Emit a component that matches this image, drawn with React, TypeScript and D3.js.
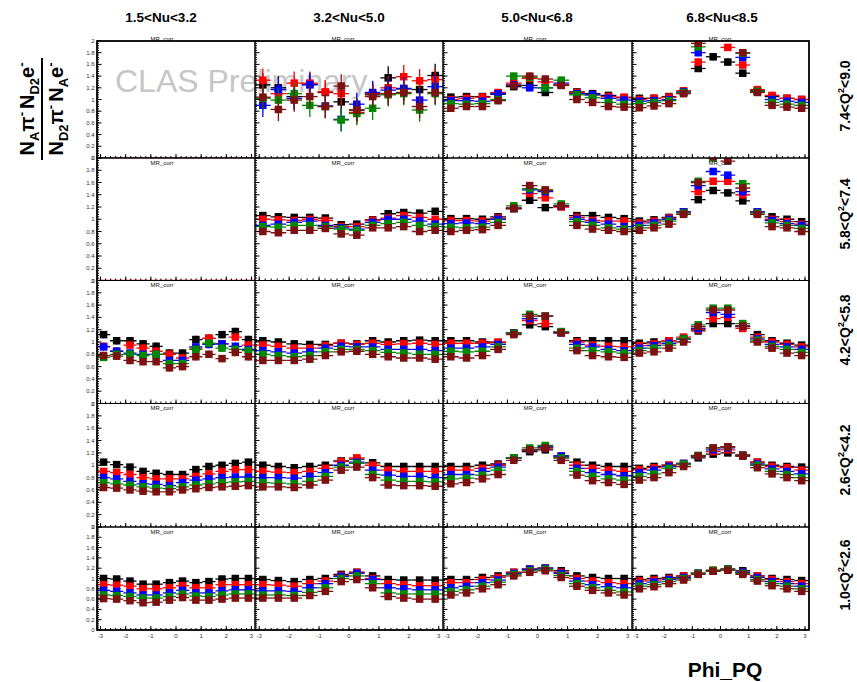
import * as d3 from 'd3';

// phi_PQ bin centres (rad), 12 bins over [-pi, pi]
const phiCenters = [-2.88, -2.36, -1.83, -1.31, -0.79, -0.26, 0.26, 0.79, 1.31, 1.83, 2.36, 2.88];
const binHalfWidth = Math.PI / 12;

const nuLabels = ['1.5<Nu<3.2', '3.2<Nu<5.0', '5.0<Nu<6.8', '6.8<Nu<8.5'];
const q2Lo = ['7.4', '5.8', '4.2', '2.6', '1.0'];
const q2Hi = ['9.0', '7.4', '5.8', '4.2', '2.6'];
const xTickLabels = [-3, -2, -1, 0, 1, 2, 3];

// series: black, red, blue, green, maroon
const seriesColors = ['#000000', '#ff0000', '#0000ff', '#008800', '#7d1010'];

// ---- 7.4<Q2<9.0 ----
const q74_nu15 = [[], [0, 0, 0, 0, 0, 0, 0, 0, 0, 0, 0, 0], [], [], []];
const q74_nu32 = [
  [1.25, 1.2, 1.05, 1.26, 1.12, 0.96, 0.82, 1.08, 1.37, 1.18, 1.17, 1.41],
  [1.33, 1.1, 1.28, 1.28, 1.13, 1.1, 0.78, 1.1, 1.2, 1.39, 1.32, 1.34],
  [0.9, 1.17, 1.02, 1.25, 0.89, 0.66, 0.92, 1.12, 1.16, 1.19, 0.99, 1.22],
  [1.02, 0.99, 1.1, 0.9, 0.88, 0.65, 0.76, 0.85, 1.08, 1.1, 0.82, 1.1],
  [1.04, 0.83, 0.99, 1.05, 0.88, 1.23, 0.82, 1.05, 1.1, 1.12, 0.88, 1.12],
];
const q74_nu50 = [
  [1.04, 1.05, 1.05, 1.09, 1.22, 1.24, 1.12, 1.25, 1.13, 1.1, 1.07, 1.03],
  [1.0, 1.02, 1.04, 1.12, 1.28, 1.36, 1.3, 1.25, 1.12, 1.08, 1.05, 1.04],
  [0.98, 0.98, 0.97, 1.1, 1.25, 1.2, 1.2, 1.28, 1.1, 1.08, 1.02, 0.99],
  [0.93, 0.92, 0.93, 1.0, 1.4, 1.38, 1.2, 1.33, 1.08, 1.03, 0.95, 0.92],
  [0.85, 0.88, 0.88, 0.98, 1.24, 1.4, 1.35, 1.24, 1.0, 0.95, 0.88, 0.87],
];
const q74_nu68 = [
  [1.02, 1.02, 1.05, 1.12, 1.53, 1.73, 1.64, 1.45, 1.15, 1.05, 1.02, 1.0],
  [1.0, 1.02, 1.04, 1.15, 1.64, 2.1, 1.89, 1.59, 1.17, 1.07, 1.02, 1.0],
  [0.97, 0.98, 1.0, 1.13, 1.8, 2.15, 2.1, 1.72, 1.13, 1.0, 0.97, 0.95],
  [0.93, 0.95, 0.98, 1.12, 1.9, 2.2, 2.2, 1.79, 1.14, 0.95, 0.92, 0.9],
  [0.86, 0.89, 0.93, 1.1, 1.96, 2.2, 2.2, 1.8, 1.12, 0.9, 0.87, 0.85],
];

// ---- 5.8<Q2<7.4 ----
const q58_nu15 = [[], [0, 0, 0, 0, 0, 0, 0, 0, 0, 0, 0, 0], [], [], []];
const q58_nu32 = [
  [1.06, 1.04, 1.03, 1.03, 1.02, 0.91, 0.92, 0.99, 1.09, 1.11, 1.1, 1.13],
  [1.0, 0.99, 0.98, 1.0, 0.98, 0.88, 0.88, 0.98, 1.02, 1.06, 1.03, 1.0],
  [0.9, 0.92, 0.95, 0.97, 0.9, 0.86, 0.84, 0.95, 1.0, 1.0, 0.97, 0.92],
  [0.88, 0.87, 0.9, 0.9, 0.88, 0.84, 0.82, 0.9, 0.93, 0.95, 0.9, 0.88],
  [0.8, 0.78, 0.82, 0.82, 0.85, 0.76, 0.74, 0.86, 0.86, 0.88, 0.8, 0.82],
];
const q58_nu50 = [
  [1.01, 1.01, 1.0, 1.04, 1.17, 1.31, 1.19, 1.21, 1.06, 1.06, 1.03, 1.01],
  [0.98, 0.98, 0.97, 1.02, 1.18, 1.42, 1.35, 1.2, 1.03, 0.98, 0.97, 0.97],
  [0.93, 0.94, 0.93, 1.0, 1.18, 1.48, 1.45, 1.22, 1.0, 0.95, 0.92, 0.88],
  [0.87, 0.86, 0.87, 0.95, 1.22, 1.5, 1.47, 1.25, 0.96, 0.9, 0.86, 0.84],
  [0.8, 0.82, 0.83, 0.9, 1.18, 1.55, 1.48, 1.22, 0.9, 0.84, 0.82, 0.8],
];
const q58_nu68 = [
  [0.97, 0.99, 1.03, 1.12, 1.32, 1.47, 1.43, 1.3, 1.12, 1.04, 1.0, 0.96],
  [0.94, 0.97, 1.02, 1.12, 1.45, 1.62, 1.62, 1.4, 1.12, 1.0, 0.96, 0.92],
  [0.9, 0.94, 1.0, 1.12, 1.55, 1.78, 1.72, 1.45, 1.12, 0.98, 0.93, 0.9],
  [0.86, 0.9, 0.97, 1.1, 1.62, 2.0, 2.05, 1.58, 1.1, 0.94, 0.9, 0.85],
  [0.82, 0.86, 0.92, 1.08, 1.6, 2.02, 1.95, 1.51, 1.08, 0.88, 0.86, 0.8],
];

// ---- 4.2<Q2<5.8 ----
const q42_nu15 = [
  [1.12, 1.02, 1.02, 0.97, 0.93, 0.82, 0.82, 1.04, 1.06, 1.12, 1.17, 1.04],
  [0.93, 0.85, 0.95, 0.9, 0.85, 0.8, 0.74, 0.9, 1.06, 0.97, 1.08, 0.95],
  [0.92, 0.85, 0.82, 0.8, 0.8, 0.7, 0.7, 0.92, 0.96, 0.97, 0.93, 0.88],
  [0.75, 0.8, 0.8, 0.78, 0.8, 0.65, 0.65, 0.88, 0.98, 0.9, 0.88, 0.86],
  [0.78, 0.77, 0.7, 0.68, 0.68, 0.58, 0.6, 0.76, 0.8, 0.73, 0.83, 0.76],
];
const q42_nu32 = [
  [1.02, 1.0, 0.97, 0.96, 0.96, 0.98, 0.97, 1.02, 1.0, 1.02, 1.03, 1.02],
  [0.95, 0.93, 0.9, 0.9, 0.94, 0.98, 0.96, 0.98, 0.96, 0.97, 0.98, 0.96],
  [0.86, 0.84, 0.82, 0.84, 0.9, 0.93, 0.92, 0.92, 0.88, 0.88, 0.88, 0.86],
  [0.8, 0.78, 0.76, 0.78, 0.84, 0.88, 0.88, 0.86, 0.83, 0.82, 0.8, 0.8],
  [0.7, 0.7, 0.7, 0.72, 0.78, 0.84, 0.85, 0.8, 0.76, 0.74, 0.74, 0.72],
];
const q42_nu50 = [
  [1.02, 1.02, 1.0, 0.99, 1.15, 1.28, 1.25, 1.16, 1.02, 1.02, 1.02, 1.02],
  [0.98, 0.98, 0.98, 1.0, 1.14, 1.35, 1.3, 1.15, 1.0, 0.95, 0.93, 0.92],
  [0.9, 0.9, 0.92, 0.96, 1.14, 1.38, 1.42, 1.15, 0.96, 0.92, 0.88, 0.86],
  [0.85, 0.84, 0.85, 0.92, 1.14, 1.45, 1.42, 1.17, 0.9, 0.86, 0.84, 0.82],
  [0.76, 0.74, 0.78, 0.88, 1.12, 1.42, 1.42, 1.15, 0.86, 0.78, 0.76, 0.75],
];
const q42_nu68 = [
  [0.98, 1.0, 1.02, 1.05, 1.18, 1.3, 1.3, 1.25, 1.12, 1.02, 0.98, 0.95],
  [0.94, 0.97, 1.02, 1.08, 1.2, 1.38, 1.4, 1.22, 1.08, 1.0, 0.96, 0.92],
  [0.9, 0.94, 0.98, 1.05, 1.22, 1.48, 1.45, 1.26, 1.05, 0.96, 0.92, 0.88],
  [0.86, 0.9, 0.95, 1.05, 1.28, 1.55, 1.55, 1.3, 1.03, 0.93, 0.88, 0.83],
  [0.82, 0.84, 0.9, 1.0, 1.25, 1.52, 1.52, 1.26, 1.0, 0.9, 0.82, 0.78],
];

// ---- 2.6<Q2<4.2 ----
const q26_nu15 = [
  [1.05, 1.01, 0.97, 0.9, 0.87, 0.85, 0.85, 0.93, 0.98, 1.0, 1.03, 1.05],
  [0.9, 0.88, 0.85, 0.8, 0.78, 0.78, 0.78, 0.82, 0.86, 0.9, 0.93, 0.93],
  [0.8, 0.78, 0.74, 0.7, 0.69, 0.67, 0.72, 0.76, 0.78, 0.8, 0.81, 0.81],
  [0.72, 0.7, 0.68, 0.65, 0.63, 0.62, 0.65, 0.68, 0.7, 0.72, 0.73, 0.74],
  [0.64, 0.63, 0.6, 0.58, 0.57, 0.57, 0.6, 0.62, 0.64, 0.65, 0.66, 0.67],
];
const q26_nu32 = [
  [1.0, 0.98, 0.96, 0.98, 1.0, 1.07, 1.1, 1.04, 0.98, 0.98, 0.98, 0.98],
  [0.9, 0.89, 0.88, 0.9, 0.95, 1.06, 1.12, 1.0, 0.92, 0.9, 0.9, 0.9],
  [0.8, 0.8, 0.79, 0.82, 0.88, 1.0, 1.05, 0.92, 0.84, 0.82, 0.82, 0.8],
  [0.72, 0.71, 0.7, 0.74, 0.82, 0.97, 1.03, 0.85, 0.76, 0.74, 0.74, 0.73],
  [0.65, 0.65, 0.64, 0.68, 0.76, 0.92, 0.97, 0.8, 0.68, 0.67, 0.67, 0.66],
];
const q26_nu50 = [
  [0.98, 0.98, 1.0, 1.02, 1.12, 1.22, 1.25, 1.12, 1.05, 1.0, 0.98, 0.98],
  [0.92, 0.92, 0.95, 1.0, 1.12, 1.25, 1.28, 1.15, 1.0, 0.95, 0.92, 0.9],
  [0.85, 0.85, 0.9, 0.97, 1.12, 1.25, 1.3, 1.15, 0.95, 0.88, 0.85, 0.83],
  [0.78, 0.79, 0.84, 0.92, 1.12, 1.28, 1.32, 1.12, 0.9, 0.82, 0.78, 0.76],
  [0.7, 0.72, 0.78, 0.85, 1.08, 1.25, 1.28, 1.08, 0.84, 0.75, 0.72, 0.69],
];
const q26_nu68 = [
  [0.95, 0.98, 1.0, 1.02, 1.12, 1.18, 1.2, 1.15, 1.05, 1.0, 0.98, 0.97],
  [0.93, 0.96, 1.0, 1.03, 1.15, 1.22, 1.25, 1.17, 1.05, 0.98, 0.96, 0.92],
  [0.88, 0.92, 0.98, 1.03, 1.15, 1.25, 1.28, 1.16, 1.02, 0.94, 0.9, 0.86],
  [0.82, 0.86, 0.95, 1.02, 1.16, 1.28, 1.3, 1.16, 1.0, 0.9, 0.85, 0.8],
  [0.76, 0.8, 0.88, 0.98, 1.15, 1.28, 1.3, 1.15, 0.96, 0.86, 0.8, 0.75],
];

// ---- 1.0<Q2<2.6 ----
const q10_nu15 = [
  [1.0, 0.99, 0.95, 0.89, 0.89, 0.92, 0.95, 0.92, 0.94, 0.99, 1.0, 1.0],
  [0.88, 0.87, 0.85, 0.8, 0.8, 0.82, 0.86, 0.82, 0.82, 0.88, 0.88, 0.88],
  [0.77, 0.75, 0.72, 0.68, 0.68, 0.72, 0.77, 0.72, 0.72, 0.76, 0.78, 0.78],
  [0.68, 0.67, 0.65, 0.62, 0.62, 0.65, 0.7, 0.66, 0.65, 0.68, 0.7, 0.7],
  [0.61, 0.6, 0.57, 0.53, 0.54, 0.58, 0.63, 0.58, 0.58, 0.6, 0.62, 0.62],
];
const q10_nu32 = [
  [0.98, 0.96, 0.94, 0.98, 1.0, 1.08, 1.12, 1.05, 0.98, 0.97, 0.97, 0.97],
  [0.88, 0.87, 0.85, 0.9, 0.95, 1.06, 1.12, 1.0, 0.9, 0.88, 0.86, 0.86],
  [0.76, 0.76, 0.75, 0.82, 0.9, 1.04, 1.1, 0.98, 0.82, 0.8, 0.78, 0.78],
  [0.68, 0.68, 0.67, 0.73, 0.82, 1.0, 1.05, 0.9, 0.72, 0.7, 0.7, 0.7],
  [0.62, 0.62, 0.62, 0.67, 0.75, 0.94, 0.98, 0.82, 0.65, 0.62, 0.6, 0.6],
];
const q10_nu50 = [
  [0.98, 0.98, 1.02, 1.05, 1.12, 1.18, 1.2, 1.15, 1.05, 1.02, 1.0, 1.0],
  [0.92, 0.92, 0.98, 1.02, 1.12, 1.18, 1.2, 1.12, 1.0, 0.95, 0.92, 0.9],
  [0.82, 0.85, 0.92, 0.97, 1.1, 1.18, 1.2, 1.1, 0.95, 0.88, 0.84, 0.82],
  [0.75, 0.78, 0.85, 0.93, 1.08, 1.15, 1.18, 1.06, 0.9, 0.82, 0.77, 0.74],
  [0.68, 0.72, 0.8, 0.88, 1.05, 1.12, 1.15, 1.02, 0.85, 0.77, 0.72, 0.68],
];
const q10_nu68 = [
  [0.98, 1.0, 1.02, 1.05, 1.1, 1.15, 1.18, 1.15, 1.05, 1.0, 0.98, 0.96],
  [0.95, 0.97, 1.0, 1.05, 1.1, 1.16, 1.18, 1.12, 1.05, 0.98, 0.94, 0.9],
  [0.9, 0.93, 0.98, 1.02, 1.1, 1.15, 1.18, 1.12, 1.02, 0.94, 0.9, 0.85],
  [0.85, 0.88, 0.94, 1.0, 1.1, 1.16, 1.18, 1.1, 0.98, 0.9, 0.85, 0.8],
  [0.8, 0.84, 0.9, 0.97, 1.08, 1.14, 1.16, 1.08, 0.95, 0.86, 0.8, 0.75],
];

const panels = [
  [q74_nu15, q74_nu32, q74_nu50, q74_nu68],
  [q58_nu15, q58_nu32, q58_nu50, q58_nu68],
  [q42_nu15, q42_nu32, q42_nu50, q42_nu68],
  [q26_nu15, q26_nu32, q26_nu50, q26_nu68],
  [q10_nu15, q10_nu32, q10_nu50, q10_nu68],
];

// rough statistical error per panel
const panelErrors = [
  [0, 0.2, 0.06, 0.06],
  [0, 0.035, 0.04, 0.05],
  [0.06, 0.03, 0.035, 0.04],
  [0.03, 0.025, 0.03, 0.035],
  [0.025, 0.025, 0.025, 0.025],
];

// layout
const W = 857;
const H = 682;
const colX = [97, 255, 443, 632, 809];
const rowY = [41, 158, 280.5, 403.5, 527, 630];
const titleCx = [162, 343, 535, 720];
const headerCx = [161, 349, 537, 722];
const rowLabelCy = [96, 214, 330, 460, 575];
const FONT = "'Liberation Sans', Arial, Helvetica, sans-serif";
const MS = 7.5; // marker size

function Panel({ r, c }: { r: number; c: number }) {
  const x0 = colX[c], x1 = colX[c + 1], y0 = rowY[r], y1 = rowY[r + 1];
  const x = d3.scaleLinear().domain([-Math.PI, Math.PI]).range([x0, x1]);
  const y = d3.scaleLinear().domain([0, 2]).range([y1, y0]);
  const data = panels[r][c];
  const err = panelErrors[r][c];
  const clipId = `clip-${r}-${c}`;
  const yMajor = d3.range(0, 2.001, 0.2);
  const yMinor = d3.range(0, 2.001, 0.04);
  const xMinor = d3.range(-3, 3.001, 0.2);

  return (
    <g>
      <clipPath id={clipId}>
        <rect x={x0} y={y0} width={x1 - x0} height={y1 - y0} />
      </clipPath>
      <g clipPath={`url(#${clipId})`}>
        {data.map((vals, s) => (
          <g key={s} stroke={seriesColors[s]} fill={seriesColors[s]} strokeWidth={1.3}>
            {vals.map((v, i) => {
              const cx = x(phiCenters[i]);
              const cy = y(v);
              return (
                <g key={i}>
                  <line x1={x(phiCenters[i] - binHalfWidth)} x2={x(phiCenters[i] + binHalfWidth)} y1={cy} y2={cy} />
                  {v > 0 && (
                    <>
                      <line x1={cx} x2={cx} y1={y(v - err)} y2={y(v + err)} />
                      <rect x={cx - MS / 2} y={cy - MS / 2} width={MS} height={MS} stroke="none" />
                    </>
                  )}
                </g>
              );
            })}
          </g>
        ))}
      </g>
      <rect x={x0} y={y0} width={x1 - x0} height={y1 - y0} fill="none" stroke="#000" strokeWidth={1} />
      <g stroke="#000" strokeWidth={1}>
        {yMinor.map((t, i) => (
          <line key={'ym' + i} x1={x0} x2={x0 + 2} y1={y(t)} y2={y(t)} />
        ))}
        {yMajor.map((t, i) => (
          <line key={'yM' + i} x1={x0} x2={x0 + 4.5} y1={y(t)} y2={y(t)} />
        ))}
        {xMinor.map((t, i) => (
          <line key={'xm' + i} x1={x(t)} x2={x(t)} y1={y1} y2={y1 - 2} />
        ))}
        {xTickLabels.map((t) => (
          <line key={'xM' + t} x1={x(t)} x2={x(t)} y1={y1} y2={y1 - 4} />
        ))}
      </g>
      {c === 0 &&
        yMajor.map((t, i) => (
          <text key={'yl' + i} x={x0 - 2.5} y={y(t) + 2} fontSize={6} fill="#333" textAnchor="end" fontFamily={FONT}>
            {String(+t.toFixed(1))}
          </text>
        ))}
      {r === 4 &&
        xTickLabels.map((t) => (
          <text key={'xl' + t} x={x(t)} y={y1 + 8} fontSize={6} fill="#333" textAnchor="middle" fontFamily={FONT}>
            {t}
          </text>
        ))}
      <text x={titleCx[c]} y={r === 0 ? y0 - 0.5 : y0 + 6.5} fontSize={6} textAnchor="middle" fontFamily={FONT} fill="#111">
        MR_corr
      </text>
    </g>
  );
}

export default function App() {
  const sub = 13;
  return (
    <svg width={W} height={H} style={{ position: 'absolute', left: 0, top: 0, background: '#fff' }} fontFamily={FONT}>
      <rect width={W} height={H} fill="#fff" />
      <text x={115} y={92} fontSize={32} fill="#c6c6c6">CLAS Preliminary</text>
      {panels.map((row, r) => row.map((_, c) => <Panel key={`${r}-${c}`} r={r} c={c} />))}
      <rect x={colX[0]} y={rowY[0]} width={colX[4] - colX[0]} height={rowY[5] - rowY[0]} fill="none" stroke="#000" strokeWidth={1.6} />

      {nuLabels.map((l, c) => (
        <text key={l} x={headerCx[c]} y={22} fontSize={13.5} fontWeight="bold" textAnchor="middle">{l}</text>
      ))}

      {q2Lo.map((lo, r) => (
        <text key={lo} transform={`translate(850,${rowLabelCy[r]}) rotate(-90)`} fontSize={14} fontWeight="bold" textAnchor="middle">
          {lo + '<Q'}
          <tspan dy={-6} fontSize={9}>2</tspan>
          <tspan dy={6}>{'<' + q2Hi[r]}</tspan>
        </text>
      ))}

      <g transform="translate(42,109) rotate(-90)" fontWeight="bold" fontSize={20}>
        <text x={0} y={-8} textAnchor="middle">
          N<tspan dy={5} fontSize={sub}>A</tspan>
          <tspan dy={-5}>π</tspan>
          <tspan dy={-8} fontSize={sub}>-</tspan>
          <tspan dy={8} dx={3}>N</tspan>
          <tspan dy={5} fontSize={sub}>D2</tspan>
          <tspan dy={-5}>e</tspan>
          <tspan dy={-8} fontSize={sub}>-</tspan>
        </text>
        <line x1={-51} x2={51} y1={0} y2={0} stroke="#000" strokeWidth={2} />
        <text x={0} y={21} textAnchor="middle">
          N<tspan dy={5} fontSize={sub}>D2</tspan>
          <tspan dy={-5}>π</tspan>
          <tspan dy={-8} fontSize={sub}>-</tspan>
          <tspan dy={8} dx={3}>N</tspan>
          <tspan dy={5} fontSize={sub}>A</tspan>
          <tspan dy={-5}>e</tspan>
          <tspan dy={-8} fontSize={sub}>-</tspan>
        </text>
      </g>

      <text x={725} y={677} fontSize={21} fontWeight="bold" textAnchor="middle">Phi_PQ</text>
    </svg>
  );
}
